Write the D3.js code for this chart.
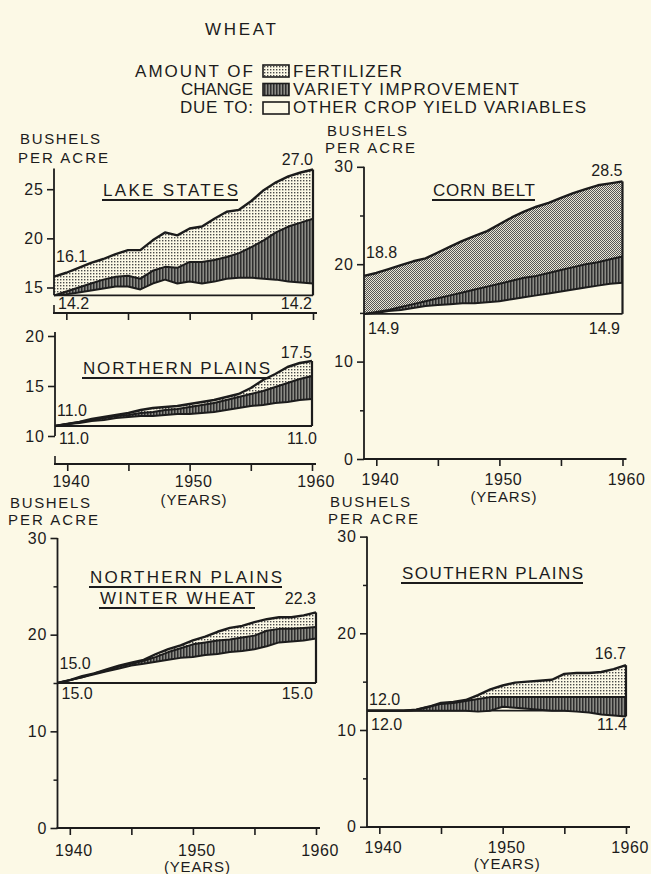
<!DOCTYPE html>
<html>
<head>
<meta charset="utf-8">
<script src="https://cdn.jsdelivr.net/npm/d3@7"></script>
<style>
  body { margin: 0; background: #fcf9e6; }
  svg text { font-family: "Liberation Sans", Arial, sans-serif; fill: #1c1c1c; }
</style>
</head>
<body>
<svg id="chart" width="651" height="874"></svg>
<script>
// years of record, 1939-1960
const years = [1939, 1940, 1941, 1942, 1943, 1944, 1945, 1946, 1947, 1948, 1949,
               1950, 1951, 1952, 1953, 1954, 1955, 1956, 1957, 1958, 1959, 1960];
const yearTicks = [1940, 1945, 1950, 1955, 1960];
const yearLabels = [1940, 1950, 1960];

// bushels per acre: "other" = top of other-variables band, "variety" = top of
// variety band, "total" = top of fertilizer band (actual yield)
const lakeOther   = [14.2, 14.3, 14.5, 14.7, 14.9, 15.1, 15.1, 14.8, 15.4, 15.8, 15.4, 15.6, 15.4, 15.6, 15.9, 16.0, 16.0, 15.9, 15.8, 15.6, 15.5, 15.4];
const lakeVariety = [14.2, 14.6, 15.0, 15.4, 15.8, 16.1, 16.2, 15.9, 16.7, 17.1, 17.0, 17.6, 17.6, 17.8, 18.1, 18.5, 19.1, 19.8, 20.6, 21.2, 21.6, 22.0];
const lakeTotal   = [16.1, 16.5, 17.0, 17.5, 17.9, 18.4, 18.8, 18.8, 19.8, 20.6, 20.3, 21.0, 21.2, 22.0, 22.7, 22.9, 23.8, 24.9, 25.7, 26.3, 26.7, 27.0];

const cornOther   = [14.9, 15.0, 15.2, 15.3, 15.5, 15.7, 15.8, 15.9, 16.0, 16.0, 16.1, 16.2, 16.4, 16.6, 16.8, 17.0, 17.2, 17.4, 17.6, 17.8, 18.0, 18.1];
const cornVariety = [14.9, 15.1, 15.3, 15.6, 15.9, 16.2, 16.5, 16.8, 17.1, 17.4, 17.7, 18.0, 18.3, 18.6, 18.8, 19.1, 19.4, 19.7, 20.0, 20.2, 20.5, 20.8];
const cornTotal   = [18.8, 19.1, 19.5, 19.9, 20.3, 20.6, 21.2, 21.8, 22.4, 22.9, 23.4, 24.1, 24.8, 25.4, 25.9, 26.3, 26.8, 27.3, 27.7, 28.1, 28.3, 28.5];

const npOther     = [11.0, 11.2, 11.3, 11.5, 11.6, 11.8, 11.9, 12.0, 12.0, 12.1, 12.2, 12.2, 12.3, 12.4, 12.6, 12.8, 13.0, 13.1, 13.3, 13.4, 13.6, 13.7];
const npVariety   = [11.0, 11.2, 11.4, 11.6, 11.8, 12.0, 12.1, 12.3, 12.4, 12.6, 12.7, 12.9, 13.1, 13.3, 13.6, 13.9, 14.2, 14.5, 14.9, 15.3, 15.7, 16.0];
const npTotal     = [11.0, 11.2, 11.4, 11.7, 11.9, 12.1, 12.3, 12.6, 12.8, 12.9, 13.0, 13.2, 13.4, 13.6, 13.9, 14.2, 14.8, 15.6, 16.2, 16.9, 17.3, 17.5];

const wwOther     = [15.0, 15.3, 15.6, 15.9, 16.2, 16.5, 16.8, 17.0, 17.2, 17.4, 17.6, 17.7, 17.9, 18.0, 18.2, 18.3, 18.5, 18.8, 19.2, 19.3, 19.4, 19.6];
const wwVariety   = [15.0, 15.3, 15.6, 16.0, 16.3, 16.7, 17.0, 17.3, 17.7, 18.2, 18.6, 19.0, 19.2, 19.4, 19.5, 19.7, 19.9, 20.4, 20.6, 20.6, 20.7, 20.8];
const wwTotal     = [15.0, 15.3, 15.7, 16.0, 16.4, 16.8, 17.1, 17.4, 18.0, 18.5, 18.9, 19.4, 19.8, 20.3, 20.7, 20.9, 21.3, 21.6, 21.8, 21.8, 22.0, 22.3];

const spOther     = [12.0, 12.0, 12.0, 12.0, 12.0, 12.0, 12.0, 12.0, 12.0, 11.9, 12.0, 12.4, 12.3, 12.2, 12.1, 12.0, 12.0, 11.9, 11.8, 11.6, 11.5, 11.4];
const spVariety   = [12.0, 12.0, 12.0, 12.0, 12.1, 12.4, 12.7, 12.8, 13.0, 13.2, 13.4, 13.4, 13.4, 13.4, 13.4, 13.4, 13.4, 13.4, 13.4, 13.4, 13.4, 13.4];
const spTotal     = [12.0, 12.0, 12.0, 12.0, 12.1, 12.4, 12.8, 12.9, 13.1, 13.6, 14.2, 14.6, 14.9, 15.0, 15.1, 15.2, 15.8, 15.9, 15.9, 16.0, 16.3, 16.7];

const legendItems = ['FERTILIZER', 'VARIETY IMPROVEMENT', 'OTHER CROP YIELD VARIABLES'];
const legendLead = ['AMOUNT  OF', 'CHANGE', 'DUE TO:'];

const ink = '#1c1c1c', paper = '#fcf9e6';
const svg = d3.select('#chart');
svg.append('rect').attr('width', 651).attr('height', 874).attr('fill', paper);

// fill patterns
const defs = svg.append('defs');
function pattern(id, w, h, bg, marks) {
  const p = defs.append('pattern').attr('id', id)
    .attr('patternUnits', 'userSpaceOnUse').attr('width', w).attr('height', h);
  p.append('rect').attr('width', w).attr('height', h).attr('fill', bg);
  marks.forEach(m => p.append('rect').attr('x', m[0]).attr('y', m[1])
    .attr('width', m[2]).attr('height', m[3]).attr('fill', m[4]));
}
pattern('fert', 3, 3, paper, [[0, 0, 1.4, 1.4, '#4a4a4a']]);
pattern('fertDense', 2, 2, '#e8e5d4', [[0, 0, 1, 1, '#555'], [1, 1, 1, 1, '#555']]);
pattern('variety', 3, 3, '#8c8c86', [[0, 0, 1.5, 3, '#2e2e2e']]);

// text placed by the centre of its capitals
function txt(s, x, cy, size, anchor, width) {
  const t = svg.append('text').attr('x', x).attr('y', cy + size * 0.36)
    .attr('font-size', size).attr('text-anchor', anchor || 'start').text(s);
  if (width) t.attr('textLength', width).attr('lengthAdjust', 'spacing');
  return t;
}

// header and legend
txt('WHEAT', 205, 29, 17, 'start', 71);
legendLead.forEach((s, i) => txt(s, 253, 71 + i * 18, 17, 'end', [118, 72, 73][i]));
const boxFill = ['url(#fert)', 'url(#variety)', paper];
legendItems.forEach((s, i) => {
  svg.append('rect').attr('x', 263).attr('y', 65 + i * 18.5).attr('width', 26).attr('height', 12)
    .attr('fill', boxFill[i]).attr('stroke', ink).attr('stroke-width', 1.6);
  txt(s, 293, 71 + i * 18, 17, 'start', [109, 226, 293][i]);
});

const panels = [
  { other: lakeOther, variety: lakeVariety, total: lakeTotal, base: 14.2, endBase: '14.2', fert: 'fert',
    xr: [54, 313], yd: [15, 25], yr: [287.5, 189.2], yTicks: [15, 20, 25], yMinor: [],
    axisTop: 27.1, axisBottom: 14.2, xAxisY: 313, upTick: true, xLabels: false,
    dyStart: -20, dyEnd: -10, dyBase: 8, baseRightX: 312,
    titles: [{ s: 'LAKE STATES', x: 103, w: 135, y: 190 }],
    bushels: [20, 139, 19] },
  { other: npOther, variety: npVariety, total: npTotal, base: 11.0, endBase: '11.0', fert: 'fert',
    xr: [55, 312], yd: [10, 20], yr: [436, 336], yTicks: [10, 15, 20], yMinor: [],
    axisTop: 20.4, axisBottom: 10, xAxisY: 464, upTick: true, xLabels: true, labelY: 481.5, yearsY: 499.5,
    dyStart: -16, dyEnd: -9, dyBase: 12, baseRightX: 317,
    titles: [{ s: 'NORTHERN  PLAINS', x: 83, w: 187, y: 368 }],
    bushels: null },
  { other: cornOther, variety: cornVariety, total: cornTotal, base: 14.9, endBase: '14.9', fert: 'fertDense',
    xr: [364, 622.5], yd: [0, 30], yr: [459, 166.8], yTicks: [0, 10, 20, 30], yMinor: [5, 15, 25],
    axisTop: 30, axisBottom: 0, xAxisY: 459, upTick: false, xLabels: true, labelY: 479.5, yearsY: 497,
    dyStart: -24, dyEnd: -11, dyBase: 14, baseRightX: 620,
    titles: [{ s: 'CORN BELT', x: 433, w: 102, y: 190 }],
    bushels: [327, 131, 17] },
  { other: wwOther, variety: wwVariety, total: wwTotal, base: 15.0, endBase: '15.0', fert: 'fert',
    xr: [57.5, 316], yd: [0, 30], yr: [828, 538], yTicks: [0, 10, 20, 30], yMinor: [5, 15, 25],
    axisTop: 30, axisBottom: 0, xAxisY: 828, upTick: false, xLabels: true, labelY: 850.5, yearsY: 866.5,
    dyStart: -20, dyEnd: -14, dyBase: 10, baseRightX: 313,
    titles: [{ s: 'NORTHERN  PLAINS', x: 90, w: 192, y: 577 }, { s: 'WINTER  WHEAT', x: 100, w: 155, y: 598 }],
    bushels: [10, 503, 17] },
  { other: spOther, variety: spVariety, total: spTotal, base: 12.0, endBase: '11.4', fert: 'fert',
    xr: [367, 626], yd: [0, 30], yr: [826.7, 536.6], yTicks: [0, 10, 20, 30], yMinor: [5, 15, 25],
    axisTop: 30, axisBottom: 0, xAxisY: 827, upTick: false, xLabels: true, labelY: 847, yearsY: 864,
    dyStart: -11, dyEnd: -12, dyBase: 14, baseRightX: 627,
    titles: [{ s: 'SOUTHERN  PLAINS', x: 402, w: 181, y: 573 }],
    bushels: [330, 501.5, 17] }
];

function drawPanel(p) {
  const g = svg.append('g');
  const x = d3.scaleLinear().domain([1939, 1960]).range(p.xr);
  const y = d3.scaleLinear().domain(p.yd).range(p.yr);
  const rows = years.map((yr, i) => ({ year: yr, other: p.other[i], variety: p.variety[i], total: p.total[i] }));
  const x0 = x(1939), x1 = x(1960), yb = y(p.base);
  const last = rows[rows.length - 1];

  // baseline (yield of 1939)
  g.append('line').attr('x1', x0).attr('x2', x1).attr('y1', yb).attr('y2', yb)
    .attr('stroke', ink).attr('stroke-width', 1.8);

  const areaV = d3.area().x(d => x(d.year)).y0(d => y(d.other)).y1(d => y(d.variety));
  const areaF = d3.area().x(d => x(d.year)).y0(d => y(d.variety)).y1(d => y(d.total));
  g.append('path').datum(rows).attr('d', areaV).attr('fill', 'url(#variety)');
  g.append('path').datum(rows).attr('d', areaF).attr('fill', `url(#${p.fert})`);

  ['other', 'variety', 'total'].forEach(k => {
    g.append('path').datum(rows)
      .attr('d', d3.line().x(d => x(d.year)).y(d => y(d[k])))
      .attr('fill', 'none').attr('stroke', ink)
      .attr('stroke-width', k === 'total' ? 2.4 : 2).attr('stroke-linejoin', 'round');
  });

  // right edge
  g.append('line').attr('x1', x1).attr('x2', x1)
    .attr('y1', y(Math.min(p.base, last.other))).attr('y2', y(last.total))
    .attr('stroke', ink).attr('stroke-width', 2.2);

  // y axis
  g.append('line').attr('x1', x0).attr('x2', x0)
    .attr('y1', y(p.axisTop)).attr('y2', y(p.axisBottom))
    .attr('stroke', ink).attr('stroke-width', 1.8);
  const ya = g.append('g').attr('transform', `translate(${x0},0)`)
    .call(d3.axisLeft(y).tickValues(p.yTicks).tickSize(7).tickSizeOuter(0).tickFormat(d3.format('d')));
  ya.select('.domain').remove();
  ya.attr('font-size', 16).attr('font-family', null).attr('color', ink);
  ya.selectAll('line').attr('stroke-width', 1.6);
  ya.selectAll('text').attr('letter-spacing', 1);
  if (p.yMinor.length) {
    const ym = g.append('g').attr('transform', `translate(${x0},0)`)
      .call(d3.axisLeft(y).tickValues(p.yMinor).tickSize(4).tickSizeOuter(0).tickFormat(''));
    ym.select('.domain').remove();
    ym.attr('color', ink).selectAll('line').attr('stroke-width', 1.5);
  }

  // x axis
  g.append('line').attr('x1', x0 - 1).attr('x2', x1 + 4)
    .attr('y1', p.xAxisY).attr('y2', p.xAxisY).attr('stroke', ink).attr('stroke-width', 1.8);
  if (p.upTick) {
    g.append('line').attr('x1', x0).attr('x2', x0).attr('y1', p.xAxisY - 8).attr('y2', p.xAxisY)
      .attr('stroke', ink).attr('stroke-width', 1.6);
  }
  const xa = g.append('g').attr('transform', `translate(0,${p.xAxisY})`)
    .call(d3.axisBottom(x).tickValues(yearTicks).tickSize(7).tickSizeOuter(0).tickFormat(''));
  xa.select('.domain').remove();
  xa.attr('color', ink).selectAll('line').attr('stroke-width', 1.6);
  if (p.xLabels) {
    yearLabels.forEach(yr => txt(String(yr), x(yr) + 4, p.labelY, 16, 'middle').attr('letter-spacing', 0.5));
    txt('(YEARS)', x(1950) + 4, p.yearsY, 15, 'middle', 66);
  }

  // value labels
  txt(d3.format('.1f')(p.total[0]), x0 + 2, y(p.total[0]) + p.dyStart, 16, 'start');
  txt(d3.format('.1f')(last.total), x1, y(last.total) + p.dyEnd, 16, 'end');
  txt(d3.format('.1f')(p.base), x0 + 4, yb + p.dyBase, 16, 'start');
  txt(p.endBase, p.baseRightX, yb + p.dyBase, 16, 'end');

  // titles with underline
  p.titles.forEach(t => {
    txt(t.s, t.x, t.y, 17, 'start', t.w);
    svg.append('line').attr('x1', t.x - 1).attr('x2', t.x + t.w)
      .attr('y1', t.y + 10).attr('y2', t.y + 10).attr('stroke', ink).attr('stroke-width', 1.8);
  });

  if (p.bushels) {
    txt('BUSHELS', p.bushels[0], p.bushels[1], 15, 'start', 80);
    txt('PER ACRE', p.bushels[0] - 2, p.bushels[1] + p.bushels[2], 15, 'start', 90);
  }
}

panels.forEach(drawPanel);
</script>
</body>
</html>
